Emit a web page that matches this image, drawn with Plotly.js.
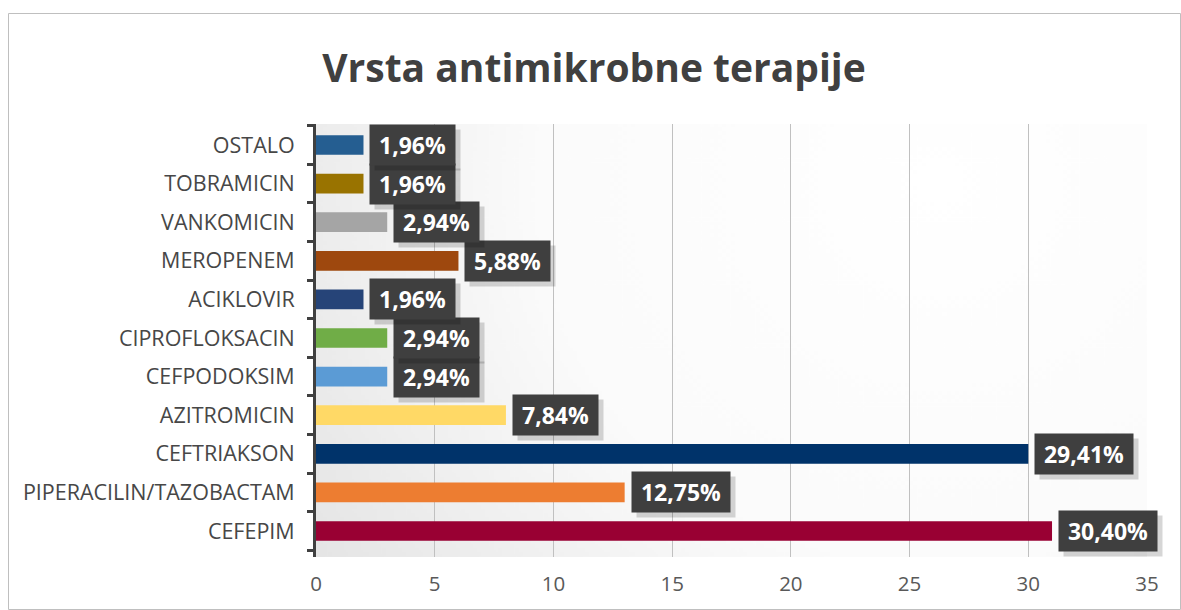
<!DOCTYPE html>
<html>
<head>
<meta charset="utf-8">
<script src="https://cdn.plot.ly/plotly-3.0.1.min.js"></script>
<style>
html,body{margin:0;padding:0;background:#fff;}
#chart{width:1181px;height:610px;}
</style>
</head>
<body>
<div id="chart"></div>
<script>
// Data (bottom to top, as drawn on the chart)
const categories = ["CEFEPIM","PIPERACILIN/TAZOBACTAM","CEFTRIAKSON","AZITROMICIN","CEFPODOKSIM","CIPROFLOKSACIN","ACIKLOVIR","MEROPENEM","VANKOMICIN","TOBRAMICIN","OSTALO"];
const counts = [31, 13, 30, 8, 3, 3, 2, 6, 3, 2, 2];
const percentLabels = ["30,40%","12,75%","29,41%","7,84%","2,94%","2,94%","1,96%","5,88%","2,94%","1,96%","1,96%"];
const barColors = ["#990033","#ED7D31","#00336A","#FFD966","#5B9BD5","#70AD47","#264478","#9E480E","#A5A5A5","#997300","#255E91"];
const xTicks = [0,5,10,15,20,25,30,35];
const chartTitle = "Vrsta antimikrobne terapije";

const W = 1181, H = 610;
const M = {l:316, r:34, t:124, b:53};
const pw = W - M.l - M.r, ph = H - M.t - M.b;

const font = "'Open Sans', sans-serif";
const labelSize = 23;
const boxGap = 6, padX = 9, boxH = 40;

// background gradient image
const cv = document.createElement('canvas');
cv.width = 400; cv.height = 220;
const cx = cv.getContext('2d');
const g = cx.createRadialGradient(300, 30, 10, 300, 30, 420);
g.addColorStop(0, '#ffffff');
g.addColorStop(0.45, '#fbfbfb');
g.addColorStop(1, '#dcdcdc');
cx.fillStyle = g;
cx.fillRect(0,0,400,220);
const bgURL = cv.toDataURL('image/png');
cx.font = "bold " + labelSize + "px 'Open Sans'";

const trace = {
  type: 'bar',
  orientation: 'h',
  x: counts,
  y: categories,
  marker: {color: barColors},
  hoverinfo: 'none'
};

const annotations = [];
const shapes = [];
categories.forEach((c, i) => {
  const tw = Math.ceil(cx.measureText(percentLabels[i]).width);
  const bw = tw + 2 * padX;
  // shadow of the label box
  annotations.push({
    x: counts[i], y: c, xref: 'x', yref: 'y',
    xanchor: 'left', yanchor: 'middle',
    xshift: boxGap + 5, yshift: -5,
    text: ' ',
    width: bw, height: boxH,
    showarrow: false, borderpad: 0,
    bgcolor: 'rgba(0,0,0,0.16)',
    font: {family: font, size: labelSize, color: 'rgba(0,0,0,0)'}
  });
  // label box with text
  annotations.push({
    x: counts[i], y: c, xref: 'x', yref: 'y',
    xanchor: 'left', yanchor: 'middle',
    xshift: boxGap, yshift: 0,
    text: '<b>' + percentLabels[i] + '</b>',
    width: bw, height: boxH, align: 'center', valign: 'middle',
    showarrow: false, borderpad: 0,
    bgcolor: '#3f3f3f',
    font: {family: font, size: labelSize, color: '#ffffff'}
  });
});

// chart border in paper coordinates
const px = v => (v - M.l) / pw;
const py = v => 1 - (v - M.t) / ph;
shapes.push({
  type: 'rect', xref: 'paper', yref: 'paper',
  x0: px(8.5), x1: px(1180.5), y0: py(609.5), y1: py(13.5),
  line: {color: '#bfbfbf', width: 1}, fillcolor: 'rgba(0,0,0,0)', layer: 'below'
});

const layout = {
  width: W, height: H,
  margin: M,
  paper_bgcolor: '#ffffff',
  plot_bgcolor: 'rgba(0,0,0,0)',
  showlegend: false,
  bargap: 0.49,
  title: {
    text: '<b>' + chartTitle + '</b>',
    x: 0.503, xref: 'container', xanchor: 'center',
    y: 1 - 68/H, yref: 'container', yanchor: 'middle',
    font: {family: font, size: 39, color: '#404040'}
  },
  xaxis: {
    range: [0, 35],
    tickvals: xTicks,
    ticktext: xTicks.map(String),
    showgrid: true, gridcolor: '#c0c0c0', gridwidth: 1,
    zeroline: false, showline: false, ticks: '',
    ticklabelstandoff: 12,
    tickfont: {family: font, size: 20.5, color: '#595959'},
    fixedrange: true
  },
  yaxis: {
    type: 'category',
    categoryorder: 'array', categoryarray: categories,
    showline: true, linecolor: '#404040', linewidth: 3,
    ticks: 'outside', tickson: 'boundaries', ticklen: 6, tickwidth: 3, tickcolor: '#404040',
    ticklabelstandoff: 14,
    showgrid: false, zeroline: false,
    tickfont: {family: font, size: 21.5, color: '#474747'},
    fixedrange: true
  },
  annotations: annotations,
  shapes: shapes,
  images: [{
    source: bgURL, xref: 'paper', yref: 'paper',
    x: 0, y: 1, sizex: 1, sizey: 1, sizing: 'stretch',
    xanchor: 'left', yanchor: 'top', layer: 'below'
  }]
};

Plotly.newPlot('chart', [trace], layout, {displayModeBar: false, staticPlot: true});
</script>
</body>
</html>
